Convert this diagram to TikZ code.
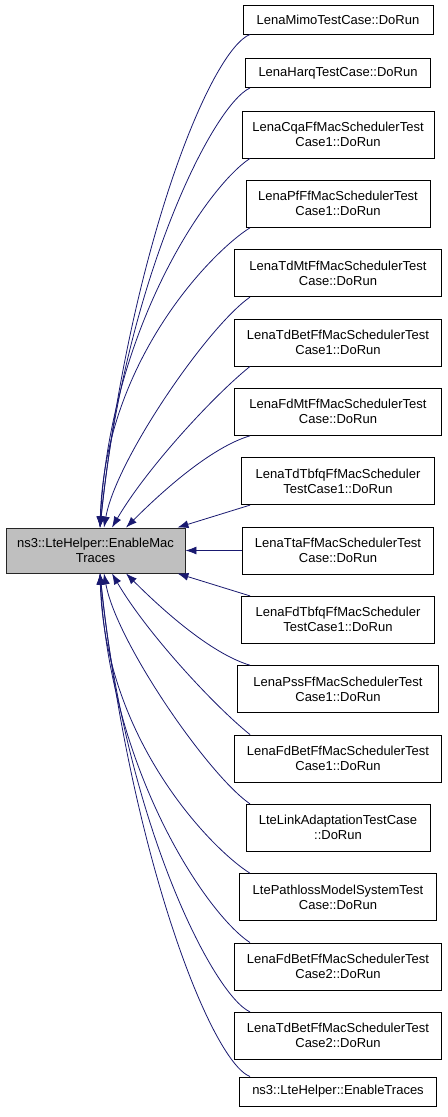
\documentclass[tikz,border=0pt]{standalone}
\usepackage{fontspec}
\setmainfont{Liberation Sans}
\usepackage{tikz}
\usetikzlibrary{arrows.meta,positioning,calc}
\usepackage{xcolor}
\definecolor{cEdge}{HTML}{191970}
\definecolor{cMain}{HTML}{BFBFBF}

\begin{document}
\begin{tikzpicture}[
  x=1bp, y=-1bp,
  font=\fontsize{13bp}{15bp}\selectfont,
  % ── one box style for callers, grey fill for the called function ──
  fn/.style={draw=black, fill=white, line width=0.9bp, align=center,
             inner xsep=0pt, inner ysep=0pt, minimum height=47bp},
  fn1/.style={fn, minimum height=29bp},
  mn/.style={fn, fill=cMain, draw=black!85, minimum width=179bp,
             minimum height=45bp},
  call/.style={-{Latex[length=11bp,width=8bp]}, line width=0.8bp, cEdge},
]
\useasboundingbox (0,0) rectangle (448,1117);
% ═══ grid: right column x = 338 ; rows 69.33 apart ═══
\def\cR{338}

% ── called function ──────────────────────────────────────
\node[mn] (main) at (95.5,550.5) {ns3::LteHelper::EnableMac\\Traces};

% ── callers ──────────────────────────────────────────────
\node[fn1, minimum width=190bp] (mimo)   at (\cR,19.5)   {LenaMimoTestCase::DoRun};
\node[fn1, minimum width=185bp] (harq)   at (\cR,73)     {LenaHarqTestCase::DoRun};
\node[fn,  minimum width=192bp] (cqa)    at (\cR,134.5)  {LenaCqaFfMacSchedulerTest\\Case1::DoRun};
\node[fn,  minimum width=184bp] (pf)     at (\cR,203.83) {LenaPfFfMacSchedulerTest\\Case1::DoRun};
\node[fn,  minimum width=207bp] (tdmt)   at (\cR,273.17) {LenaTdMtFfMacSchedulerTest\\Case::DoRun};
\node[fn,  minimum width=207bp] (tdbetA) at (\cR,342.5)  {LenaTdBetFfMacSchedulerTest\\Case1::DoRun};
\node[fn,  minimum width=207bp] (fdmt)   at (\cR,411.83) {LenaFdMtFfMacSchedulerTest\\Case::DoRun};
\node[fn,  minimum width=193bp] (tdtbfq) at (\cR,481.17) {LenaTdTbfqFfMacScheduler\\TestCase1::DoRun};
\node[fn,  minimum width=191bp] (tta)    at (\cR,550.5)  {LenaTtaFfMacSchedulerTest\\Case::DoRun};
\node[fn,  minimum width=193bp] (fdtbfq) at (\cR,619.83) {LenaFdTbfqFfMacScheduler\\TestCase1::DoRun};
\node[fn,  minimum width=201bp] (pss)    at (\cR,689.17) {LenaPssFfMacSchedulerTest\\Case1::DoRun};
\node[fn,  minimum width=207bp] (fdbetA) at (\cR,758.5)  {LenaFdBetFfMacSchedulerTest\\Case1::DoRun};
\node[fn,  minimum width=184bp] (link)   at (\cR,827.83) {LteLinkAdaptationTestCase\\::DoRun};
\node[fn,  minimum width=197bp] (ploss)  at (\cR,897.17) {LtePathlossModelSystemTest\\Case::DoRun};
\node[fn,  minimum width=207bp] (fdbetB) at (\cR,966.5)  {LenaFdBetFfMacSchedulerTest\\Case2::DoRun};
\node[fn,  minimum width=207bp] (tdbetB) at (\cR,1035.83){LenaTdBetFfMacSchedulerTest\\Case2::DoRun};
\node[fn1, minimum width=197bp] (traces) at (\cR,1091.5) {ns3::LteHelper::EnableTraces};

% ── columns where edges leave the callers / hit the grey box ──
\coordinate (out) at (250,0);
\coordinate (tA) at (100,0);  \coordinate (tB) at (104,0);
\coordinate (tC) at (112,0);  \coordinate (tD) at (126,0);

% ── upper fan: into the top side ─────────────────────────
\draw[call] (out |- mimo.south)   .. controls +(-40,16) and +(30,-278) .. (tA |- main.north);
\draw[call] (out |- harq.south)   .. controls +(-37,17) and +(25,-248) .. (tA |- main.north);
\draw[call] (out |- cqa.south)    .. controls +(-43,28) and +(10,-198) .. (tA |- main.north);
\draw[call] (out |- pf.south)     .. controls +(-37,23) and +(5,-168)  .. (tA |- main.north);
\draw[call] (out |- tdmt.south)   .. controls +(-42,29) and +(12,-68)  .. (tB |- main.north);
\draw[call] (out |- tdbetA.south) .. controls +(-35,28) and +(35,-60)  .. (tC |- main.north);
\draw[call] (out |- fdmt.south)   .. controls +(-40,12) and +(35,-35)  .. (tD |- main.north);

% ── middle: nearly straight ──────────────────────────────
\draw[call] (out |- tdtbfq.south) -- ([xshift=-8bp]main.north east);
\draw[call] (tta.west) -- (main.east);
\draw[call] (out |- fdtbfq.north) -- ([xshift=-8bp]main.south east);

% ── lower fan: into the bottom side ──────────────────────
\draw[call] (out |- pss.north)    .. controls +(-40,-12) and +(35,35)  .. (tD |- main.south);
\draw[call] (out |- fdbetA.north) .. controls +(-35,-28) and +(35,60)  .. (tC |- main.south);
\draw[call] (out |- link.north)   .. controls +(-42,-29) and +(12,68)  .. (tB |- main.south);
\draw[call] (out |- ploss.north)  .. controls +(-37,-23) and +(5,168)  .. (tA |- main.south);
\draw[call] (out |- fdbetB.north) .. controls +(-43,-28) and +(10,198) .. (tA |- main.south);
\draw[call] (out |- tdbetB.north) .. controls +(-37,-17) and +(25,248) .. (tA |- main.south);
\draw[call] (out |- traces.north) .. controls +(-40,-16) and +(30,278) .. (tA |- main.south);
\end{tikzpicture}
\end{document}
